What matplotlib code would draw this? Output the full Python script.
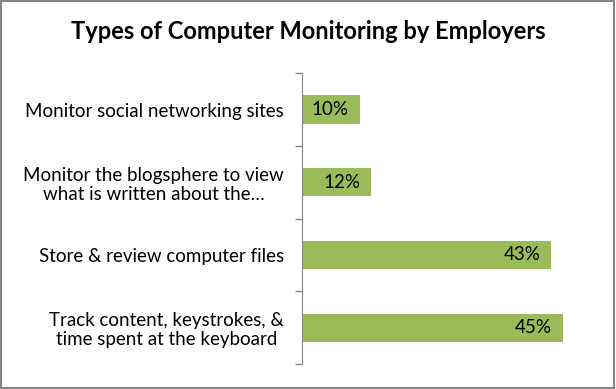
import numpy as np
import matplotlib.pyplot as plt
from matplotlib.patches import Rectangle

categories = ["Monitor social networking sites",
              "Monitor the blogsphere to view\nwhat is written about the\u2026",
              "Store & review computer files",
              "Track content, keystrokes, &\ntime spent at the keyboard"]
values = [10, 12, 43, 45]
labels = ["10%", "12%", "43%", "45%"]

plt.rcParams['font.family'] = ['Lato', 'DejaVu Sans']

fig = plt.figure(figsize=(6.16, 3.89), dpi=100)
ax = fig.add_axes([0.490, 0.064, 0.471, 0.748])

y = np.arange(len(categories))
ax.barh(y, values, height=0.39, color="#9BBB59")
for yi, v, lab in zip(y, values, labels):
    ax.annotate(lab, (v, yi), xytext=(-8, 0), textcoords="offset points",
                ha="right", va="center", fontsize=13.5, color="black")

ax.set_xlim(0, 50)
ax.set_ylim(-0.5, len(categories) - 0.5)
ax.invert_yaxis()
ax.set_yticks(y)
ax.set_yticklabels(categories, fontsize=13.5, ha="right", multialignment="center",
                   linespacing=1.15)
ax.tick_params(axis="y", which="major", length=0, pad=13)
ax.set_yticks(np.arange(-0.5, len(categories)), minor=True)
ax.tick_params(axis="y", which="minor", length=5, color="#868686", width=1)
ax.set_xticks([])
for s in ["top", "right", "bottom"]:
    ax.spines[s].set_visible(False)
ax.spines["left"].set_color("#868686")

fig.text(0.5, 0.918, "Types of Computer Monitoring by Employers",
         ha="center", va="center", fontsize=17, fontweight="bold")

fig.patches.append(Rectangle((0.002, 0.003), 0.995, 0.994, transform=fig.transFigure,
                             fill=False, edgecolor="#868686", linewidth=1.5))

fig.savefig("out.png", dpi=100)
